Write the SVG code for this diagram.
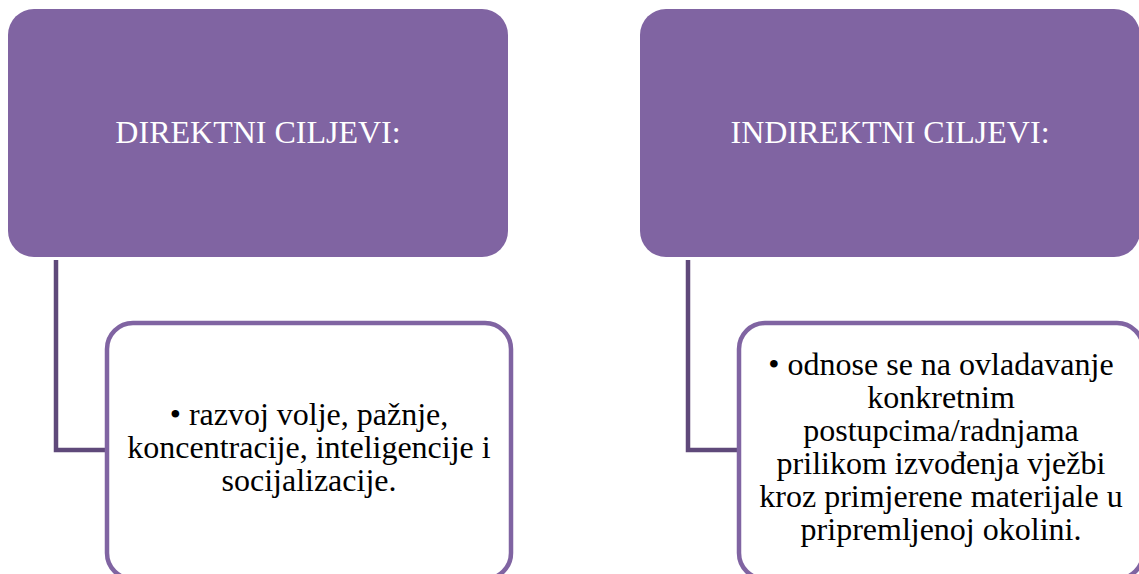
<svg xmlns="http://www.w3.org/2000/svg" width="1139" height="574" viewBox="0 0 1139 574">
<style>
.head{fill:#8064A2;}
.child{fill:#FFFFFF;stroke:#8064A2;stroke-width:4.5;}
.conn{fill:none;stroke:#5F497A;stroke-width:4.5;stroke-linejoin:miter;}
.ht{font-size:32px;fill:#FFFFFF;text-anchor:middle;}
.ct{font-size:32px;fill:#000000;text-anchor:middle;}
</style>
<rect width="1139" height="574" fill="#FFFFFF"/>
<g id="connectors">
<path class="conn" d="M56,260 V450 H107"/>
<path class="conn" d="M688,260 V450 H739"/>
</g>
<g font-family="Liberation Serif, Times New Roman, serif">
<g id="node-direktni">
<rect class="head" x="8" y="9" width="500" height="248" rx="26" ry="26"/>
<text class="ht" x="258" y="143">DIREKTNI CILJEVI:</text>
</g>
<g id="node-indirektni">
<rect class="head" x="640" y="9" width="500" height="248" rx="26" ry="26"/>
<text class="ht" x="890" y="143">INDIREKTNI CILJEVI:</text>
</g>
<g id="node-direktni-detail">
<rect class="child" x="107" y="323" width="404" height="256" rx="26" ry="26"/>
<text class="ct" x="309" y="425">• razvoj volje, pažnje,</text>
<text class="ct" x="309" y="458">koncentracije, inteligencije i</text>
<text class="ct" x="309" y="491">socijalizacije.</text>
</g>
<g id="node-indirektni-detail">
<rect class="child" x="739" y="323" width="404" height="256" rx="26" ry="26"/>
<text class="ct" x="941" y="375">• odnose se na ovladavanje</text>
<text class="ct" x="941" y="408">konkretnim</text>
<text class="ct" x="941" y="441">postupcima/radnjama</text>
<text class="ct" x="941" y="474">prilikom izvođenja vježbi</text>
<text class="ct" x="941" y="507">kroz primjerene materijale u</text>
<text class="ct" x="941" y="540">pripremljenoj okolini.</text>
</g>
</g>
</svg>
